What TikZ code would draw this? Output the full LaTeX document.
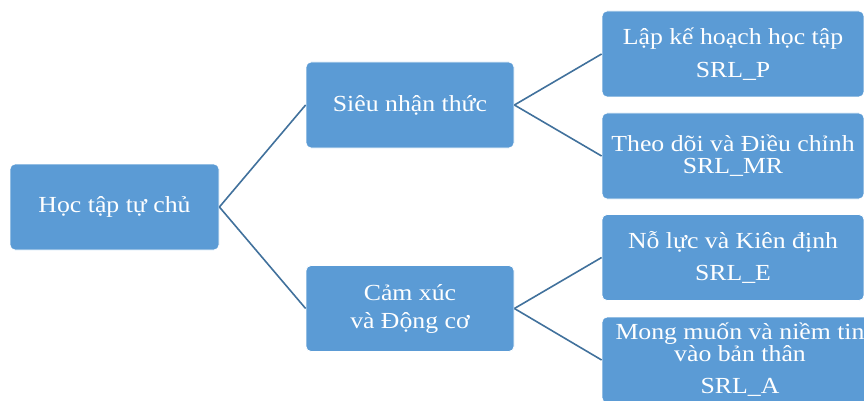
\documentclass[tikz,border=0pt]{standalone}
\usepackage{fontspec}
\setmainfont{Liberation Serif}[FakeStretch=1.12]
\definecolor{boxfill}{HTML}{5B9BD5}
\definecolor{lineblue}{HTML}{41719C}
\tikzset{
  box/.style={rectangle, rounded corners=5pt, fill=boxfill, draw=white, line width=0.8pt,
    minimum height=86pt, inner sep=0pt, text=white, align=center,
    font=\fontsize{23}{22}\selectfont},
  conn/.style={draw=lineblue, line width=1.6pt}
}
\begin{document}
\begin{tikzpicture}[x=1pt,y=-1pt]
\useasboundingbox (0,0) rectangle (864,401);
\clip (0,0) rectangle (864,401);
\node[box, minimum width=209pt] (root) at (114.5,207) {Học tập tự chủ};
\node[box, minimum width=208pt] (meta) at (410,105) {Siêu nhận thức};
\node[box, minimum width=208pt] (emo) at (410,308.5) {Cảm xúc\\[6pt]và Động cơ};
\node[box, minimum width=262pt] (p) at (733,54) {Lập kế hoạch học tập\\[11pt]SRL\_P};
\node[box, minimum width=262pt] (mr) at (733,156) {Theo dõi và Điều chỉnh\\SRL\_MR};
\node[box, minimum width=262pt] (e) at (733,257.5) {Nỗ lực và Kiên định\\[10pt]SRL\_E};
\node[box, minimum width=276pt] (a) at (740,360) {Mong muốn và niềm tin\\vào bản thân\\[10pt]SRL\_A};
\draw[conn] (root.east) -- (meta.west);
\draw[conn] (root.east) -- (emo.west);
\draw[conn] (meta.east) -- (p.west);
\draw[conn] (meta.east) -- (mr.west);
\draw[conn] (emo.east) -- (e.west);
\draw[conn] (emo.east) -- (a.west);
\end{tikzpicture}
\end{document}
